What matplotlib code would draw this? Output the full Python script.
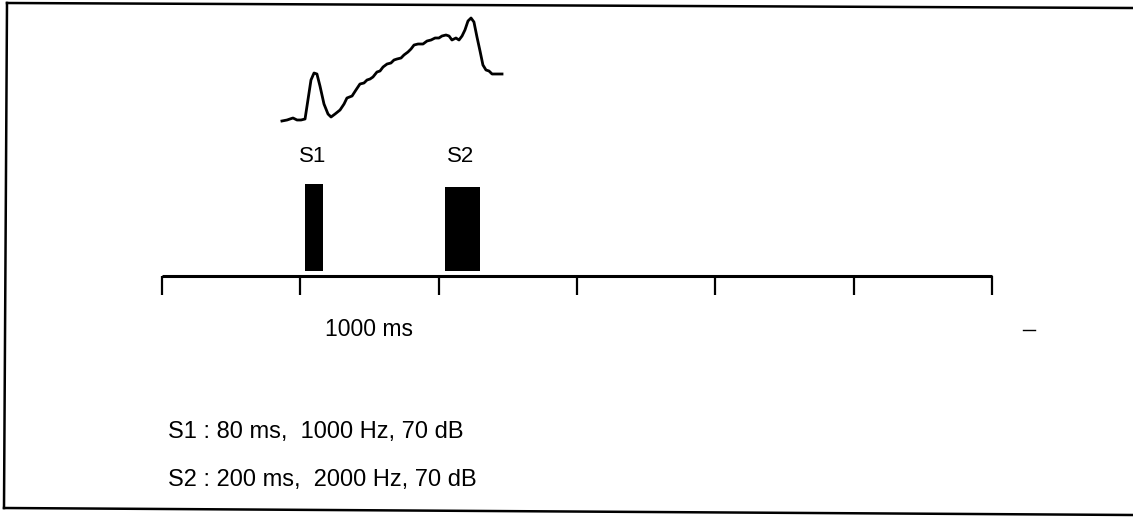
import matplotlib
matplotlib.use("Agg")
import matplotlib.pyplot as plt

plt.rcParams["font.family"] = ["Liberation Sans", "DejaVu Sans"]

# timeline (ms)
tick_ms = [0, 1000, 2000, 3000, 4000, 5000, 6000]
axis_label = "1000 ms"

# stimuli: name, onset (ms), drawn width (ms), bar top (px row)
stim_names = ["S1", "S2"]
stim_onset = [1034, 2046]
stim_width = [130, 253]
stim_top = [184, 187]

stim_specs = ["S1 : 80 ms,  1000 Hz, 70 dB",
              "S2 : 200 ms,  2000 Hz, 70 dB"]

# averaged response trace (time in ms, level in arbitrary units)
trace_ms = [867, 904, 925, 947, 976, 1005, 1034, 1055, 1077, 1099, 1120, 1142,
            1171, 1200, 1222, 1251, 1287, 1316, 1337, 1374, 1402, 1431, 1460,
            1482, 1504, 1525, 1554, 1576, 1598, 1627, 1655, 1677, 1699, 1728,
            1749, 1778, 1800, 1822, 1851, 1887, 1916, 1945, 1974, 2002, 2024,
            2053, 2075, 2096, 2125, 2147, 2169, 2190, 2212, 2234, 2255, 2277,
            2299, 2320, 2342, 2364, 2386, 2422, 2458]
trace_level = [1, 2, 3, 4, 2, 2, 3, 22, 42, 49, 48, 36, 18, 8, 5, 8, 12, 18,
               24, 26, 32, 38, 39, 42, 43, 45, 50, 51, 55, 58, 59, 62, 63, 64,
               67, 70, 73, 77, 78, 78, 81, 82, 84, 84, 86, 87, 86, 82, 84, 82,
               86, 92, 101, 104, 100, 85, 71, 57, 52, 51, 48, 48, 48]

W, H = 1133, 519
X0_PX, PX_PER_MS = 162, 0.13833
xlim = (-X0_PX / PX_PER_MS, (W - X0_PX) / PX_PER_MS)

fig = plt.figure(figsize=(W / 100, H / 100), dpi=100)
fig.patch.set_facecolor("white")

# frame overlay in pixel coords (scan is slightly rotated)
ax_f = fig.add_axes([0, 0, 1, 1])
ax_f.set_xlim(0, W)
ax_f.set_ylim(H, 0)
ax_f.axis("off")
ax_f.plot([7, W], [3, 8], color="black", lw=1.8)
ax_f.plot([7, 4], [3, 508], color="black", lw=1.8)
ax_f.plot([4, W], [508, 515], color="black", lw=1.8)
ax_f.plot([1023, 1035], [330, 330], color="black", lw=1)

# main axes: x in ms, y in pixel rows
ax = fig.add_axes([0, 0, 1, 1])
ax.patch.set_alpha(0)
ax.set_xlim(*xlim)
ax.set_ylim(H, 0)
ax.axis("off")

axis_y = 276
ax.plot([tick_ms[0], tick_ms[-1]], [axis_y, axis_y], color="black", lw=2.2,
        solid_capstyle="butt")
ax.vlines(tick_ms, axis_y, 295, color="black", lw=1.6)
ax.text((tick_ms[1] + tick_ms[2]) / 2, 330, axis_label, ha="center",
        va="center", fontsize=16.5)

for name, on, w, top in zip(stim_names, stim_onset, stim_width, stim_top):
    ax.bar(on, 271 - top, width=w, bottom=top, align="edge", color="black")
    ax.text(on + w / 2 - 12, 157, name, ha="center", va="center", fontsize=16)

for i, s in enumerate(stim_specs):
    ax.text(tick_ms[0] + 40, 432 + 48 * i, s, ha="left", va="center",
            fontsize=17)

# trace axes
ax_t = fig.add_axes([0, 1 - 122 / H, 1, 105 / H])
ax_t.patch.set_alpha(0)
ax_t.set_xlim(*xlim)
ax_t.set_ylim(0, 105)
ax_t.axis("off")
ax_t.plot(trace_ms, trace_level, color="black", lw=2, clip_on=False)

fig.savefig("out.png", dpi=100, facecolor="white")
